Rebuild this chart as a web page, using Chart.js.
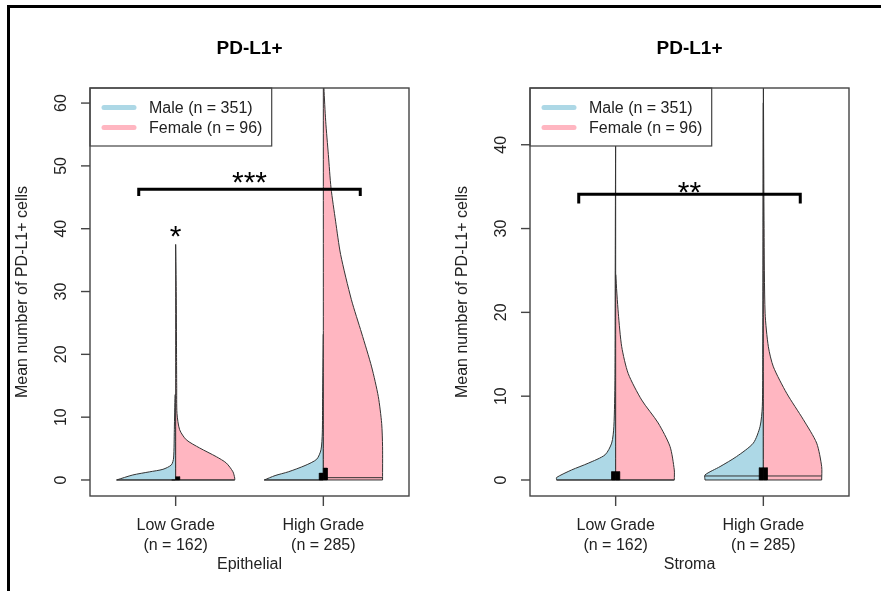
<!DOCTYPE html>
<html>
<head>
<meta charset="utf-8">
<script src="https://cdn.jsdelivr.net/npm/chart.js@4/dist/chart.umd.min.js"></script>
<style>
  html, body { margin: 0; padding: 0; background: #fff; }
  #wrap { position: relative; width: 881px; height: 591px; overflow: hidden; }
  canvas { position: absolute; top: 0; }
  #frame { position: absolute; left: 7px; top: 5px; width: 900px; height: 620px;
           border-top: 3px solid #000; border-left: 3px solid #000; pointer-events: none; }
</style>
</head>
<body>
<div id="wrap">
  <canvas id="epiChart" width="440" height="591" style="left:0"></canvas>
  <canvas id="stromaChart" width="441" height="591" style="left:440px"></canvas>
  <div id="frame"></div>
</div>
<script>
// groups on the x axis
const categories = ['Low Grade', 'High Grade'];
const groupSizes = ['(n = 162)', '(n = 285)'];
const legendLabels = ['Male (n = 351)', 'Female (n = 96)'];

// half-violin profiles: [value, half width in x units]
const epiLowMale = [[0, .40], [0.8, .29], [1.3, .176], [1.7, .086], [2.4, .029], [3.5, .014], [8, .009], [13.6, .004]];
const epiLowFemale = [[0, .40], [0.3, .40], [1.3, .388], [2.7, .343], [3.7, .276], [5.1, .162], [6.4, .072], [8, .027], [10.6, .009], [15, .007], [20, .006], [30, .004], [37.5, 0]];
const epiHighMale = [[0, .40], [0.7, .327], [1.3, .237], [2.3, .124], [3.3, .045], [4.8, .016], [7.5, .007], [13, .005], [23.2, 0]];
const epiHighFemale = [[0, .401], [5.3, .401], [9, .395], [13.3, .372], [18, .327], [23.4, .259], [28.7, .19], [35.9, .117], [41.2, .083], [46.5, .052], [51.8, .034], [57.1, .016], [62.4, .004], [66, 0]];

const stromaLowMale = [[0, .40], [0.3, .40], [1.2, .298], [2.0, .186], [3.0, .072], [4.4, .027], [6.4, .012], [11.9, .005], [25, .003], [43, 0]];
const stromaLowFemale = [[0, .397], [1.2, .397], [4.0, .368], [6.8, .288], [9.55, .176], [12.7, .085], [15.9, .041], [19.9, .018], [24.5, 0]];
const stromaHighMale = [[0, .395], [0.6, .395], [1.6, .293], [2.8, .181], [4.4, .068], [6.4, .022], [8.75, .007], [15, .004], [30, .002], [45, 0]];
const stromaHighFemale = [[0, .395], [1.6, .395], [4.4, .361], [7.2, .271], [10.35, .158], [13.5, .068], [15.9, .034], [19.9, .012], [30, .005], [50, 0]];

// boxes [q1, q3] and medians, per group: [male, female]
const epiLowBox = [[0, 0], [0, 0.53]];
const epiHighBox = [[0, 1.1], [0, 1.9]];
const stromaLowBox = [[0, 1.0], [0, 1.0]];
const stromaHighBox = [[0, 1.47], [0, 1.47]];
const epiMedians = [[0, 0], [0, 0.37]];
const stromaMedians = [[0, 0], [0.48, 0.48]];

// significance brackets: [x from, x to, y top, y end] and star labels [text, x, y]
const epiBracket = [0.75, 2.25, 46.3, 45.2];
const stromaBracket = [0.75, 2.25, 34.1, 33.0];
const epiStars = [['***', 1.5, 45.9], ['*', 1, 37.2]];
const stromaStars = [['**', 1.5, 33.2]];

const epiTicks = [0, 10, 20, 30, 40, 50, 60];
const stromaTicks = [0, 10, 20, 30, 40];

const MALE = '#ADD8E6', FEMALE = '#FFB6C1', EDGE = '#333';
const FONT = '"Liberation Sans", Arial, sans-serif';
const BOXW = 0.027;

function hline(y0, xa, xb, color, width) {
    return {data: [{x: xa, y: y0}, {x: xb, y: y0}], showLine: true, fill: false,
            borderColor: color, borderWidth: width, pointRadius: 0};
}

// outline goes up the outer edge, back down the centre; the fill closes the bottom
function halfViolin(prof, c, side, color) {
    const pts = prof.map(([v, w]) => ({x: c + side * w, y: v}));
    pts.push({x: c, y: prof[prof.length - 1][0]});
    pts.push({x: c, y: prof[0][0]});
    return [
        {data: pts, showLine: true, fill: 'shape', backgroundColor: color, borderColor: EDGE,
         borderWidth: 1, pointRadius: 0, tension: 0.25},
        hline(prof[0][0], c, c + side * prof[0][1], EDGE, 1)
    ];
}

function boxRect(q, c, side) {
    const x2 = c + side * BOXW;
    return {data: [{x: c, y: q[0]}, {x: c, y: q[1]}, {x: x2, y: q[1]}, {x: x2, y: q[0]}, {x: c, y: q[0]}],
            showLine: true, fill: 'shape', backgroundColor: '#000', borderColor: '#000', borderWidth: 0.5,
            pointRadius: 0, tension: 0};
}

function bracket(b) {
    return {data: [{x: b[0], y: b[3]}, {x: b[0], y: b[2]}, {x: b[1], y: b[2]}, {x: b[1], y: b[3]}],
            showLine: true, fill: false, borderColor: '#000', borderWidth: 3, pointRadius: 0,
            borderJoinStyle: 'miter', borderCapStyle: 'butt'};
}

const rBase = {
    id: 'rBase',
    afterDatasetsDraw(chart, args, o) {
        const {ctx, chartArea: a, scales: {x, y}} = chart;
        ctx.save();
        // stars
        ctx.fillStyle = '#000';
        ctx.font = '30px ' + FONT;
        ctx.textAlign = 'center';
        ctx.textBaseline = 'alphabetic';
        o.stars.forEach(s => ctx.fillText(s[0], x.getPixelForValue(s[1]), y.getPixelForValue(s[2])));

        // legend
        const lw = 181.7, lh = 58;
        ctx.fillStyle = '#fff';
        ctx.fillRect(a.left, a.top, lw, lh);
        ctx.strokeStyle = '#444';
        ctx.lineWidth = 1.2;
        ctx.strokeRect(a.left, a.top, lw, lh);
        ctx.lineCap = 'round';
        ctx.lineWidth = 5;
        [MALE, FEMALE].forEach((col, i) => {
            const py = a.top + 19.5 + i * 20;
            ctx.strokeStyle = col;
            ctx.beginPath();
            ctx.moveTo(a.left + 14, py);
            ctx.lineTo(a.left + 44, py);
            ctx.stroke();
            ctx.fillStyle = '#222';
            ctx.font = '16px ' + FONT;
            ctx.textAlign = 'left';
            ctx.textBaseline = 'middle';
            ctx.fillText(legendLabels[i], a.left + 59, py + 1);
        });
        ctx.lineCap = 'butt';

        // plot box
        ctx.strokeStyle = '#444';
        ctx.lineWidth = 1.4;
        ctx.strokeRect(a.left, a.top, a.right - a.left, a.bottom - a.top);

        // y axis
        ctx.fillStyle = '#222';
        ctx.font = '16px ' + FONT;
        ctx.textAlign = 'center';
        ctx.textBaseline = 'middle';
        o.ticks.forEach(v => {
            const py = y.getPixelForValue(v);
            ctx.beginPath();
            ctx.moveTo(a.left - 9, py);
            ctx.lineTo(a.left, py);
            ctx.stroke();
            ctx.save();
            ctx.translate(62, py);
            ctx.rotate(-Math.PI / 2);
            ctx.fillText(String(v), 0, 0);
            ctx.restore();
        });
        ctx.save();
        ctx.translate(23, (a.top + a.bottom) / 2);
        ctx.rotate(-Math.PI / 2);
        ctx.fillText('Mean number of PD-L1+ cells', 0, 0);
        ctx.restore();

        // x axis
        categories.forEach((c, i) => {
            const px = x.getPixelForValue(i + 1);
            ctx.beginPath();
            ctx.moveTo(px, a.bottom);
            ctx.lineTo(px, a.bottom + 10);
            ctx.stroke();
            ctx.fillText(c, px, a.bottom + 30);
            ctx.fillText(groupSizes[i], px, a.bottom + 50);
        });
        ctx.fillText(o.xlab, (a.left + a.right) / 2, a.bottom + 69);

        // title
        ctx.fillStyle = '#000';
        ctx.font = 'bold 19px ' + FONT;
        ctx.fillText('PD-L1+', (a.left + a.right) / 2, 49);
        ctx.restore();
    }
};

function makeChart(id, v, boxes, medians, br, stars, ticks, yMin, yMax, xlab, padRight) {
    const ds = [];
    v.forEach((pair, i) => {
        ds.push(...halfViolin(pair[0], i + 1, -1, MALE));
        ds.push(...halfViolin(pair[1], i + 1, 1, FEMALE));
    });
    medians.forEach((m, i) => {
        ds.push(hline(m[0], i + 1, i + 1 - v[i][0][0][1], EDGE, 1));
        ds.push(hline(m[1], i + 1, i + 1 + v[i][1][0][1], EDGE, 1));
    });
    boxes.forEach((b, i) => {
        ds.push(boxRect(b[0], i + 1, -1));
        ds.push(boxRect(b[1], i + 1, 1));
    });
    ds.push(bracket(br));
    // Chart.js paints the first dataset on top, so hand them over back to front
    ds.reverse();
    return new Chart(document.getElementById(id), {
        type: 'scatter',
        data: {datasets: ds},
        options: {
            responsive: false,
            animation: false,
            layout: {padding: {left: 90, right: padRight, top: 88, bottom: 95}},
            scales: {
                x: {type: 'linear', min: 0.42, max: 2.58, display: false},
                y: {type: 'linear', min: yMin, max: yMax, display: false}
            },
            plugins: {
                legend: {display: false},
                tooltip: {enabled: false},
                rBase: {stars: stars, ticks: ticks, xlab: xlab}
            }
        },
        plugins: [rBase]
    });
}

makeChart('epiChart', [[epiLowMale, epiLowFemale], [epiHighMale, epiHighFemale]],
    [epiLowBox, epiHighBox], epiMedians, epiBracket, epiStars, epiTicks, -2.55, 62.4, 'Epithelial', 31);
makeChart('stromaChart', [[stromaLowMale, stromaLowFemale], [stromaHighMale, stromaHighFemale]],
    [stromaLowBox, stromaHighBox], stromaMedians, stromaBracket, stromaStars, stromaTicks, -1.91, 46.77, 'Stroma', 32);
</script>
</body>
</html>
